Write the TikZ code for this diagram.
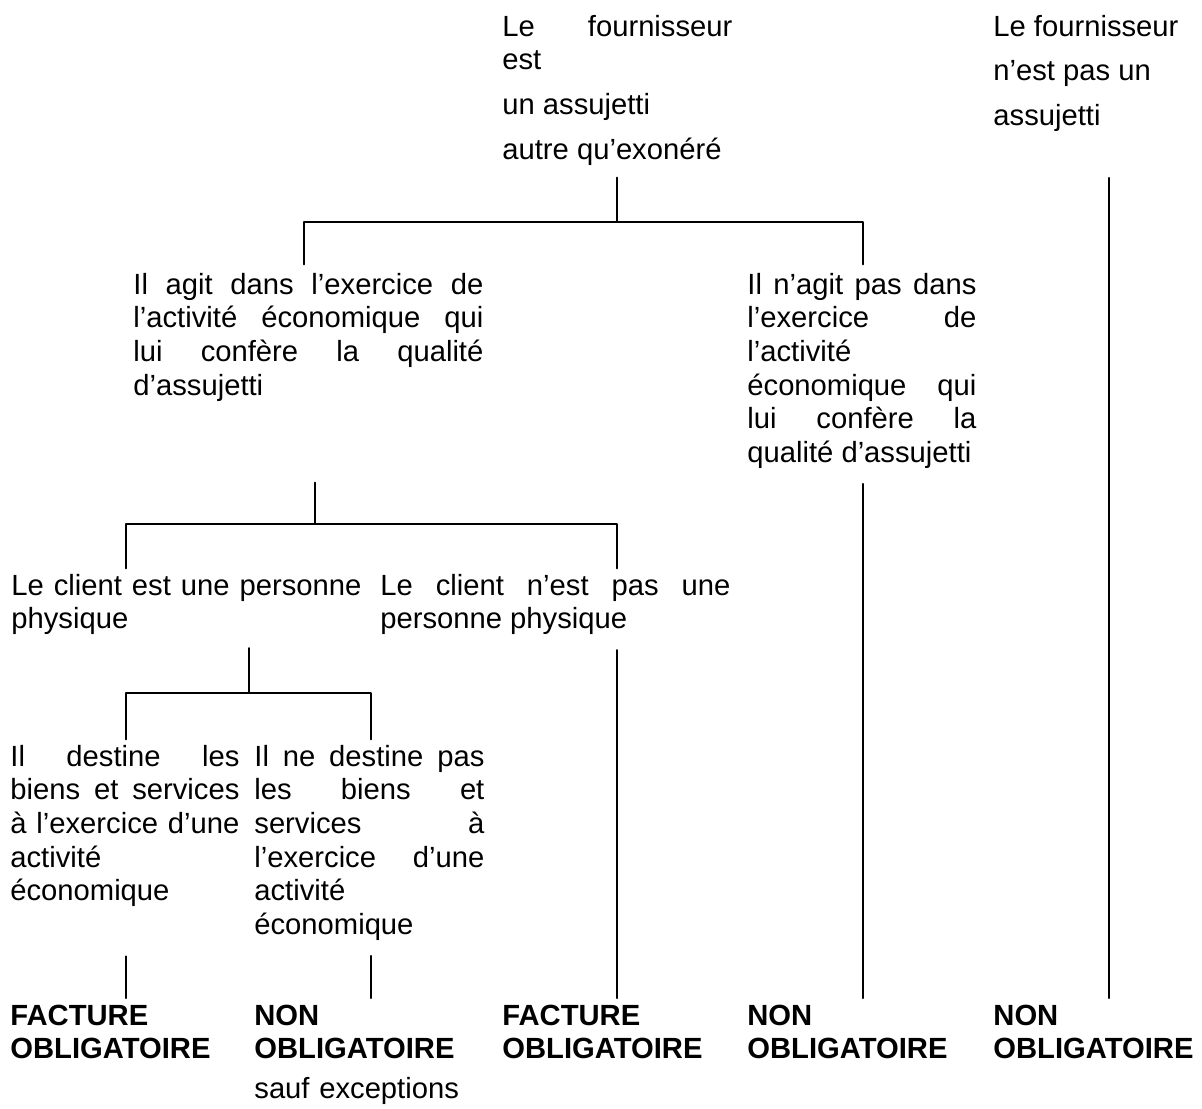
\documentclass[tikz,border=0pt]{standalone}
\usepackage{fontspec}
\setmainfont{Liberation Sans}
\tolerance=10000
\hyphenpenalty=10000

\begin{document}
\begin{tikzpicture}[line cap=round,line join=round,x=0.5pt,y=-0.5pt,
    box/.style={anchor=base west,inner sep=0pt,align=justify,font=\fontsize{14.6}{16.85}\selectfont},
    res/.style={anchor=base west,inner sep=0pt,text width=120pt,align=left,font=\fontsize{14.6}{16.85}\selectfont\bfseries},
    link/.style={line width=1pt}]
        \useasboundingbox (0,0) rectangle (1202,1108);
        % the cases
        \node[box,text width=115pt] (fourn) at (502,36) {Le fournisseur\linebreak est\\[5.5pt]un assujetti\\[5.5pt]autre qu’exonéré};
        \node[box,text width=115pt] (nonassuj) at (993,36) {Le fournisseur\\[5.5pt]n’est pas un\\[5.5pt]assujetti};
        \node[box,text width=175pt] (agit) at (133,294) {Il agit dans l’exercice de\linebreak l’activité économique qui\linebreak lui confère la qualité\linebreak d’assujetti};
        \node[box,text width=114.5pt] (nagit) at (747,294) {Il n’agit pas dans\linebreak l’exercice de\linebreak l’activité\linebreak économique qui\linebreak lui confère la\linebreak qualité d’assujetti};
        \node[box,text width=175pt] (phys) at (11,595) {Le client est une personne\linebreak physique};
        \node[box,text width=175pt] (nonphys) at (380,595) {Le client n’est pas une\linebreak personne physique};
        \node[box,text width=114.5pt] (dest) at (10,766) {Il destine les\linebreak biens et services\linebreak à l’exercice d’une\linebreak activité\linebreak économique};
        \node[box,text width=115pt] (nodest) at (254,766) {Il ne destine pas\linebreak les biens et\linebreak services à\linebreak l’exercice d’une\linebreak activité\linebreak économique};
        % the answers
        \node[res] (fact1) at (10,1025) {FACTURE\\OBLIGATOIRE};
        \node[res] (non1) at (254,1025) {NON\\OBLIGATOIRE\\[3pt]{\mdseries sauf exceptions}};
        \node[res] (fact2) at (502,1025) {FACTURE\\OBLIGATOIRE};
        \node[res] (non2) at (747,1025) {NON\\OBLIGATOIRE};
        \node[res] (non3) at (993,1025) {NON\\OBLIGATOIRE};
        % branch points and columns
        \coordinate (b1) at (617,222);
        \coordinate (b2) at (315,524);
        \coordinate (b3) at (249,693);
        \coordinate (xa) at (304,0);
        \coordinate (x1) at (126,0);
        \coordinate (x2) at (371,0);
        \coordinate (x3) at (617,0);
        \coordinate (x4) at (863,0);
        \coordinate (x5) at (1109,0);
        \draw[link,shorten <=6pt] (fourn.south -| b1) -- (b1);
        \draw[link,shorten <=4pt,shorten >=4pt] (agit.north -| xa) |- (b1) -| (nagit.north -| x4);
        \draw[link,shorten <=40.5pt] (agit.south -| b2) -- (b2);
        \draw[link,shorten <=2.5pt,shorten >=2.5pt] (phys.north -| x1) |- (b2) -| (nonphys.north -| x3);
        \draw[link,shorten <=6.5pt] (phys.south -| b3) -- (b3);
        \draw[link,shorten <=2.5pt,shorten >=2.5pt] (dest.north -| x1) |- (b3) -| (nodest.north -| x2);
        % down to the answers
        \draw[link,shorten <=24.5pt,shorten >=3pt] (dest.south -| x1) -- (fact1.north -| x1);
        \draw[link,shorten <=7.5pt,shorten >=3pt] (nodest.south -| x2) -- (non1.north -| x2);
        \draw[link,shorten <=7.5pt,shorten >=3pt] (nonphys.south -| x3) -- (fact2.north -| x3);
        \draw[link,shorten <=7.5pt,shorten >=3pt] (nagit.south -| x4) -- (non2.north -| x4);
        \draw[link,shorten <=23pt,shorten >=3pt] (nonassuj.south -| x5) -- (non3.north -| x5);
\end{tikzpicture}
\end{document}
